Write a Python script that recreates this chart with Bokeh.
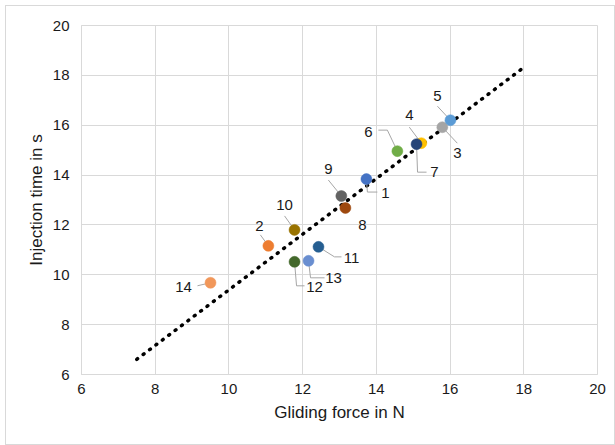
import numpy as np
from bokeh.plotting import figure
from bokeh.models import ColumnDataSource, Range1d, FixedTicker
from bokeh.embed import file_html
from bokeh.resources import INLINE
from bokeh.core.properties import value

# ---- data ----
sample_ids = ["1", "2", "3", "4", "5", "6", "7", "8", "9", "10", "11", "12", "13", "14"]
gliding_force = [13.73, 11.07, 15.79, 15.22, 16.01, 14.57, 15.09, 13.16, 13.05, 11.78, 12.43, 11.78, 12.16, 9.50]
injection_time = [13.84, 11.16, 15.92, 15.28, 16.20, 14.96, 15.24, 12.68, 13.16, 11.80, 11.12, 10.52, 10.56, 9.68]
point_colors = ["#4472C4", "#ED7D31", "#A5A5A5", "#FFC000", "#5B9BD5", "#70AD47", "#264478",
                "#9E480E", "#636363", "#997300", "#255E91", "#43682B", "#698ED0", "#F1975A"]
x_ticks = [6, 8, 10, 12, 14, 16, 18, 20]
y_ticks = [6, 8, 10, 12, 14, 16, 18, 20]
x_title = "Gliding force in N"
y_title = "Injection time in s"

# ---- label placement (screen-pixel offsets from each point, y downward) ----
label_offsets = [(19, 14), (-9, -20), (15, 26), (-12, -28), (-13, -24), (-29, -19), (18, 28),
                 (17, 17), (-13, -27), (-10, -25), (33, 11), (20, 25), (25, 17), (-27, 4)]
leader_paths = [
    [(0, 0), (1, 13), (11, 13)],
    [(-8, -11), (0, 0)],
    [(0, 0), (15, 16)],
    [(-12, -16), (0, 0)],
    [(-13, -14), (0, 0)],
    [(-19, -21), (-10, -21), (0, 0)],
    [(0, 0), (1, 28), (10, 28)],
    [],
    [(-13, -16), (0, 0)],
    [(-10, -14), (0, 0)],
    [(0, 0), (16, 10), (23, 10)],
    [(0, 0), (2, 24), (10, 24)],
    [(0, 0), (2, 17), (16, 17)],
    [(-13, 3), (0, 0)],
]

FONT = "Liberation Sans"
FW, FH = 516, 349
x0, x1, y0, y1 = 6, 20, 6, 20
sx = FW / (x1 - x0)
sy = FH / (y1 - y0)

p = figure(frame_width=FW, frame_height=FH, output_backend="svg", toolbar_location=None,
           x_range=Range1d(x0, x1), y_range=Range1d(y0, y1),
           min_border_left=75, min_border_top=19, min_border_right=17, min_border_bottom=70)
p.margin = (5, 0, 0, 5)
p.styles = {"border": "1px solid #d9d9d9"}
p.outline_line_color = "#d9d9d9"
p.background_fill_color = "white"
p.border_fill_color = "white"

for ax, ticks in ((p.xaxis[0], x_ticks), (p.yaxis[0], y_ticks)):
    ax.ticker = FixedTicker(ticks=ticks)
    ax.major_tick_line_color = None
    ax.minor_tick_line_color = None
    ax.axis_line_color = "#d9d9d9"
    ax.major_label_text_font = FONT
    ax.major_label_text_font_size = "15px"
    ax.major_label_text_color = "#1a1a1a"
    ax.axis_label_text_font = FONT
    ax.axis_label_text_font_size = "17px"
    ax.axis_label_text_font_style = "normal"
    ax.axis_label_text_color = "#1a1a1a"
    ax.major_tick_out = 0
    ax.major_tick_in = 0

p.xaxis.axis_label = x_title
p.yaxis.axis_label = y_title
p.xaxis.major_label_standoff = 9
p.xaxis.axis_label_standoff = 6
p.yaxis.major_label_standoff = 12
p.yaxis.axis_label_standoff = 4

p.xgrid.ticker = FixedTicker(ticks=x_ticks)
p.ygrid.ticker = FixedTicker(ticks=y_ticks)
p.grid.grid_line_color = "#d9d9d9"
p.grid.grid_line_width = 1

# trendline (linear fit, extended 2 units each way)
coef = np.polyfit(gliding_force, injection_time, 1)
tx = np.array([min(gliding_force) - 2, max(gliding_force) + 2])
ty = np.polyval(coef, tx)
p.line(tx, ty, line_color="black", line_width=3.5, line_dash="1 7", line_cap="round")

# leader lines
lx, ly = [], []
for xv, yv, path in zip(gliding_force, injection_time, leader_paths):
    if not path:
        continue
    lx.append([xv + dx / sx for dx, dy in path])
    ly.append([yv - dy / sy for dx, dy in path])
p.multi_line(lx, ly, line_color="#a6a6a6", line_width=1)

# points
src = ColumnDataSource(dict(x=gliding_force, y=injection_time, c=point_colors))
p.scatter("x", "y", source=src, size=11, fill_color="c", line_color="c", line_width=0.5)

# labels
tx_l = [xv + dx / sx for xv, (dx, dy) in zip(gliding_force, label_offsets)]
ty_l = [yv - dy / sy for yv, (dx, dy) in zip(injection_time, label_offsets)]
p.text(tx_l, ty_l, text=sample_ids, text_font=value(FONT), text_font_size="15px",
       text_color="#1a1a1a", text_align="center", text_baseline="middle")

open("out.html", "w").write(file_html(p, INLINE))
